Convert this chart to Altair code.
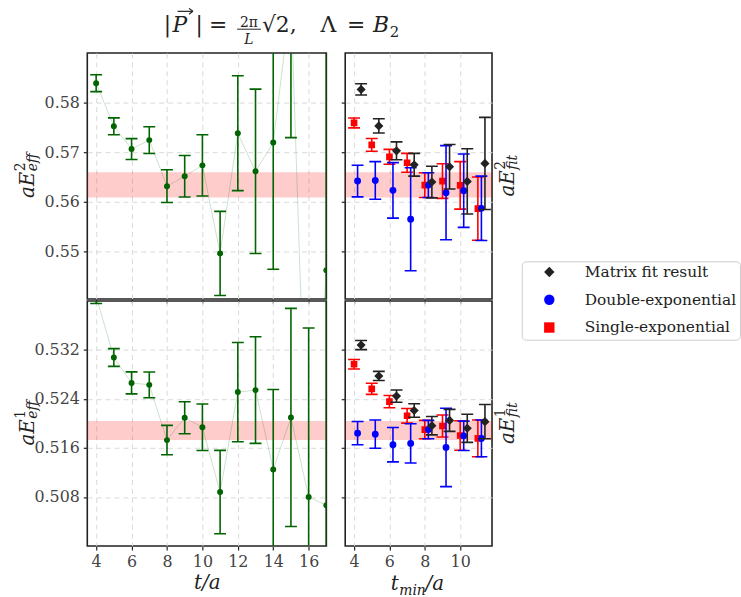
import altair as alt
import pandas as pd

# ---------------- data ----------------
t_eff = [4, 5, 6, 7, 8, 9, 10, 11, 12, 13, 14, 15, 16, 17]
E2_eff = [0.5840, 0.5753, 0.5707, 0.5725, 0.5632, 0.5652, 0.5674, 0.5496, 0.5739, 0.5662, 0.5720, 0.6010, 0.4930, 0.5462]
E2_eff_err = [0.0017, 0.0017, 0.0021, 0.0027, 0.0033, 0.0042, 0.0062, 0.0085, 0.0116, 0.0166, 0.0256, 0.0280, 0.0400, 0.0450]
E1_eff = [0.5408, 0.53077, 0.52663, 0.52631, 0.51729, 0.52094, 0.51938, 0.50881, 0.52513, 0.52545, 0.51251, 0.52099, 0.5080, 0.50666]
E1_eff_err = [0.0012, 0.00145, 0.0018, 0.0021, 0.0024, 0.0026, 0.0038, 0.0068, 0.0081, 0.0087, 0.01305, 0.0178, 0.0276, 0.0350]

tmin = [4, 5, 6, 7, 8, 9, 10, 11]
matrix_E2 = [0.58275, 0.57537, 0.57034, 0.56752, 0.56403, 0.56711, 0.56416, 0.56779]
matrix_E2_err = [0.00114, 0.00144, 0.0018, 0.0023, 0.0032, 0.0045, 0.0066, 0.0093]
single_E2 = [0.57597, 0.57154, 0.56913, 0.56792, 0.56342, 0.56423, 0.56336, 0.55866]
single_E2_err = [0.0010, 0.0013, 0.0015, 0.0019, 0.0025, 0.0035, 0.0048, 0.0064]
double_E2 = [0.56423, 0.56436, 0.56235, 0.55651, 0.56342, 0.56188, 0.56228, 0.55872]
double_E2_err = [0.0032, 0.0038, 0.0056, 0.0104, 0.0025, 0.0095, 0.0074, 0.0065]

matrix_E1 = [0.53281, 0.52776, 0.52448, 0.52212, 0.51965, 0.52051, 0.51922, 0.52030]
matrix_E1_err = [0.00075, 0.00075, 0.0010, 0.0011, 0.0015, 0.0018, 0.0023, 0.0028]
single_E1 = [0.52967, 0.52566, 0.52357, 0.52126, 0.51901, 0.51960, 0.51804, 0.51756]
single_E1_err = [0.00078, 0.0009, 0.0010, 0.0012, 0.0015, 0.0018, 0.0024, 0.0030]
double_E1 = [0.51842, 0.51826, 0.51654, 0.51675, 0.51901, 0.51610, 0.51799, 0.51756]
double_E1_err = [0.0019, 0.0023, 0.0028, 0.0032, 0.0015, 0.0064, 0.0024, 0.0030]

band_E2 = [0.5609, 0.5660]
band_E1 = [0.5173, 0.5204]

series_names = ["Matrix fit result", "Double-exponential", "Single-exponential"]
series_colors = ["#222222", "#0000ff", "#ff0000"]
series_shapes = ["diamond", "circle", "square"]
series_sizes = [85, 48, 45]
series_shift = [0.4, 0.2, 0.0]

yticks_top = [0.55, 0.56, 0.57, 0.58]
yticks_bot = [0.508, 0.516, 0.524, 0.532]
xticks_left = [4, 6, 8, 10, 12, 14, 16]
xticks_right = [4, 6, 8, 10]

# ---------------- layout / style ----------------
FONT = "DejaVu Serif"
WL, WR, HT, HB = 241, 148, 248, 247
XL = [3.5, 17]
XR = [3.5, 11.8]
YT = [0.5404, 0.5901]
YB = [0.5, 0.54]
GREEN = "#006400"
TXT = "#222222"
one = pd.DataFrame({"k": [0]})

LEG = alt.Legend(title=None, orient="none", legendX=438, legendY=210,
                 labelFont=FONT, labelFontSize=15.5, labelColor=TXT,
                 symbolSize=110, symbolStrokeWidth=0, strokeColor="#cccccc",
                 fillColor="white", padding=3, cornerRadius=4, rowPadding=11,
                 labelOffset=28, symbolOffset=17)


def txt(s, x, y, size, italic=False, align="left", angle=None):
    kw = dict(text=s, align=align, baseline="alphabetic", font=FONT, fontSize=size,
              color=TXT, fontStyle="italic" if italic else "normal")
    if angle is not None:
        kw["angle"] = angle
    return alt.Chart(one).mark_text(**kw).encode(x=alt.value(x), y=alt.value(y))


def seg(x1, y1, x2, y2, w=1.2):
    return alt.Chart(one).mark_rule(color=TXT, strokeWidth=w).encode(
        x=alt.value(x1), y=alt.value(y1), x2=alt.value(x2), y2=alt.value(y2))


def ylabel(sup, sub, bx, cy, ws):
    wm = 26.5
    y0 = cy + (wm + ws) / 2
    return [txt("aE", bx, y0, 20, True, angle=270),
            txt(sup, bx - 9, y0 - wm - 0.5, 14, False, angle=270),
            txt(sub, bx + 3, y0 - wm - 0.5, 14, True, angle=270)]


def x_axis(values, bottom, title=None):
    if bottom:
        kw = dict(values=values, format="d", title=title)
        if title:
            kw.update(titleFont=FONT, titleFontSize=20, titleFontStyle="italic",
                      titleFontWeight="normal", titleColor=TXT, titlePadding=3)
        return alt.Axis(**kw)
    return alt.Axis(values=values, labels=False, title=None)


def band_layer(band, ys, ya, W):
    bdf = pd.DataFrame({"b0": [band[0]], "b1": [band[1]]})
    return alt.Chart(bdf).mark_rect(color="#ff0000", opacity=0.2).encode(
        x=alt.value(0), x2=alt.value(W),
        y=alt.Y("b0", type="quantitative", scale=ys, axis=ya), y2="b1")


def left_panel(vals, errs, band, ydom, yticks, yfmt, H, bottom, sup, extra):
    df = pd.DataFrame({"t": t_eff, "v": vals, "e": errs})
    df["lo"] = df["v"] - df["e"]
    df["hi"] = df["v"] + df["e"]
    xs = alt.Scale(domain=XL, nice=False, zero=False)
    ys = alt.Scale(domain=ydom, nice=False, zero=False)
    xa = x_axis(xticks_left, bottom, "t/a" if bottom else None)
    ya = alt.Axis(values=yticks, format=yfmt, title=None)
    X = lambda f: alt.X(f, type="quantitative", scale=xs, axis=xa)
    Y = lambda f: alt.Y(f, type="quantitative", scale=ys, axis=ya)
    base = alt.Chart(df)
    layers = [
        band_layer(band, ys, ya, WL),
        base.mark_line(color=GREEN, opacity=0.2, strokeWidth=1, clip=True).encode(x=X("t"), y=Y("v")),
        base.mark_rule(color=GREEN, strokeWidth=1.6, clip=True).encode(x=X("t"), y=Y("lo"), y2="hi"),
        base.mark_tick(color=GREEN, orient="horizontal", size=12, thickness=1.6, opacity=1, clip=True).encode(x=X("t"), y=Y("lo")),
        base.mark_tick(color=GREEN, orient="horizontal", size=12, thickness=1.6, opacity=1, clip=True).encode(x=X("t"), y=Y("hi")),
        base.mark_circle(color=GREEN, size=36, opacity=1, clip=True).encode(x=X("t"), y=Y("v")),
    ]
    layers += ylabel(sup, "eff", -54, H / 2, 18)
    layers += extra
    return alt.layer(*layers).properties(width=WL, height=H)


def right_panel(data, band, ydom, yticks, H, bottom, sup, extra):
    xs = alt.Scale(domain=XR, nice=False, zero=False)
    ys = alt.Scale(domain=ydom, nice=False, zero=False)
    xa = x_axis(xticks_right, bottom)
    ya = alt.Axis(values=yticks, labels=False, title=None)
    X = lambda f: alt.X(f, type="quantitative", scale=xs, axis=xa)
    Y = lambda f: alt.Y(f, type="quantitative", scale=ys, axis=ya)
    layers = [band_layer(band, ys, ya, WR)]
    for i in [2, 1, 0]:
        name = series_names[i]
        vals, errs = data[name]
        df = pd.DataFrame({"x": [t + series_shift[i] for t in tmin], "v": vals, "e": errs, "series": name})
        df["lo"] = df["v"] - df["e"]
        df["hi"] = df["v"] + df["e"]
        col = series_colors[i]
        base = alt.Chart(df)
        layers += [
            base.mark_rule(color=col, strokeWidth=1.6, clip=True).encode(x=X("x"), y=Y("lo"), y2="hi"),
            base.mark_tick(color=col, orient="horizontal", size=12, thickness=1.6, opacity=1, clip=True).encode(x=X("x"), y=Y("lo")),
            base.mark_tick(color=col, orient="horizontal", size=12, thickness=1.6, opacity=1, clip=True).encode(x=X("x"), y=Y("hi")),
            base.mark_point(filled=True, size=series_sizes[i], opacity=1, clip=True).encode(
                x=X("x"), y=Y("v"),
                color=alt.Color("series:N", scale=alt.Scale(domain=series_names, range=series_colors), legend=LEG),
                shape=alt.Shape("series:N", scale=alt.Scale(domain=series_names, range=series_shapes), legend=LEG)),
        ]
    layers += ylabel(sup, "fit", 170, H / 2, 15)
    layers += extra
    return alt.layer(*layers).properties(width=WR, height=H)


# title pieces (placed relative to the top-left panel)
anchor = alt.Chart(one).mark_rule(strokeOpacity=0, strokeWidth=0.5).encode(
    x=alt.value(-87), x2=alt.value(-86), y=alt.value(-50), y2=alt.value(-50))
title_parts = [
    anchor,
    txt("|", 77, -21, 22),
    txt("P", 86, -21, 22, True),
    seg(91, -42, 106, -42),
    seg(102.5, -45, 106.5, -42),
    seg(102.5, -39, 106.5, -42),
    txt("|", 109, -21, 22),
    txt("=", 132, -21, 22, align="center"),
    txt("2\u03c0", 163, -26, 14, align="center"),
    seg(151, -24, 175, -24, 1),
    txt("L", 163, -9, 14, True, align="center"),
    txt("\u221a2,", 176, -21, 22),
    txt("\u039b", 235, -21, 22),
    txt("=", 271, -21, 22, align="center"),
    txt("B", 288, -21, 22, True),
    txt("2", 305, -16, 15),
]

tmin_label = [
    txt("t", 46, 291, 20, True),
    txt("min", 54.5, 296, 14, True),
    txt("/a", 81, 291, 20, True),
]

tl = left_panel(E2_eff, E2_eff_err, band_E2, YT, yticks_top, ".2f", HT, False, "2", title_parts)
tr = right_panel({"Matrix fit result": (matrix_E2, matrix_E2_err),
                  "Double-exponential": (double_E2, double_E2_err),
                  "Single-exponential": (single_E2, single_E2_err)},
                 band_E2, YT, yticks_top, HT, False, "2", [])
bl = left_panel(E1_eff, E1_eff_err, band_E1, YB, yticks_bot, ".3f", HB, True, "1", [])
br = right_panel({"Matrix fit result": (matrix_E1, matrix_E1_err),
                  "Double-exponential": (double_E1, double_E1_err),
                  "Single-exponential": (single_E1, single_E1_err)},
                 band_E1, YB, yticks_bot, HB, True, "1", tmin_label)

chart = alt.concat(tl, tr, bl, br, columns=2,
                   spacing=alt.RowColnumber(row=2, column=19),
                   bounds="flush").properties(padding=0).configure_view(
    stroke="#222222", strokeWidth=1.6
).configure_axis(
    labelFont=FONT, labelFontSize=16, labelColor="#444444",
    tickColor="#222222", tickSize=4, tickWidth=1.2,
    gridColor="#d9d9d9", gridDash=[5, 4], gridWidth=1,
    domain=False, labelPadding=4
)

chart.save("out.html", embed_options={"renderer": "svg", "actions": False})
